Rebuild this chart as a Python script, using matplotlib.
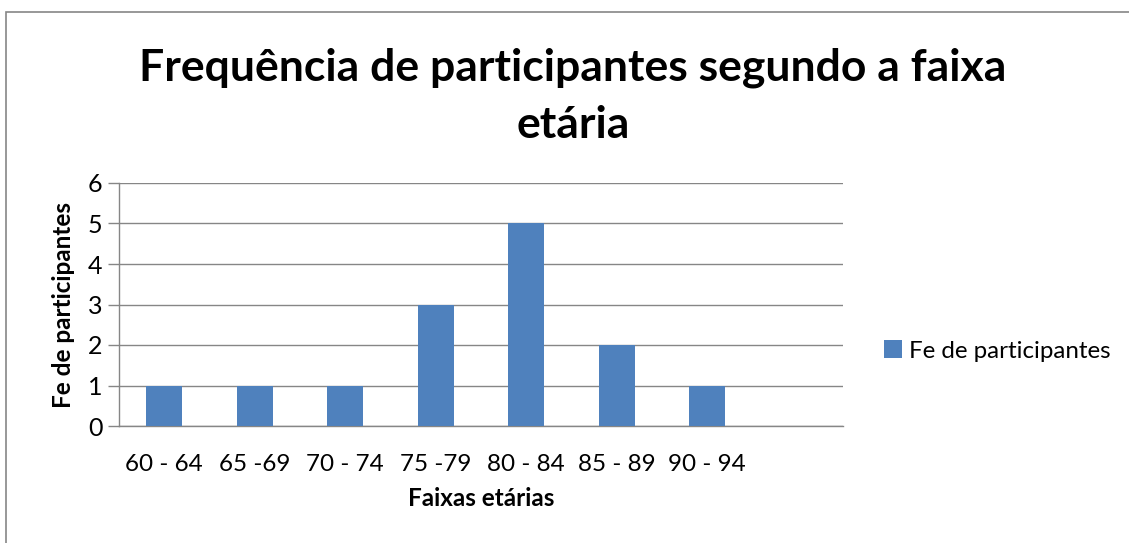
import matplotlib
matplotlib.use("Agg")
import matplotlib.pyplot as plt
from matplotlib.patches import Rectangle, Patch
import numpy as np

categories = ["60 - 64", "65 -69", "70 - 74", "75 -79", "80 - 84", "85 - 89", "90 - 94", ""]
values = [1, 1, 1, 3, 5, 2, 1, np.nan]
series_name = "Fe de participantes"
title = "Frequência de participantes segundo a faixa\netária"
xlabel = "Faixas etárias"
ylabel = "Fe de participantes"
yticks = [0, 1, 2, 3, 4, 5, 6]

plt.rcParams['font.family'] = ['Lato', 'DejaVu Sans']

W, H = 1129, 543
fig = plt.figure(figsize=(W / 100, H / 100), dpi=100)
fig.patch.set_facecolor("white")

# outer chart border
fig.add_artist(Rectangle((6 / W, -0.5), 2.0, 1 - 12 / H + 0.5, transform=fig.transFigure,
                         fill=False, edgecolor="#868686", linewidth=1.2))

ax = fig.add_axes([119 / W, 1 - 426 / H, (843 - 119) / W, (426 - 183) / H])
x = np.arange(len(categories))
color = "#4F81BD"
ax.bar(x, values, width=0.4, color=color, zorder=3, label=series_name)

ax.set_xlim(-0.5, len(categories) - 0.5)
ax.set_ylim(0, 6)
ax.set_yticks(yticks)
ax.set_xticks(x)
ax.set_xticklabels(categories)
ax.tick_params(axis="x", length=0, pad=20, labelsize=17.5)
ax.tick_params(axis="y", length=8, width=1, color="#868686", pad=4, labelsize=18)
ax.yaxis.grid(True, color="#868686", linewidth=1, zorder=0)
for s in ["top", "right"]:
    ax.spines[s].set_visible(False)
ax.spines["left"].set_color("#868686")
ax.spines["bottom"].set_color("#868686")
ax.spines["left"].set_linewidth(1)
ax.spines["bottom"].set_linewidth(1)

ax.set_xlabel(xlabel, fontsize=17.5, fontweight="bold", labelpad=9)
ax.set_ylabel(ylabel, fontsize=17.5, fontweight="bold", labelpad=9)

fig.text(573 / W, 1 - 96 / H, title, ha="center", va="center", fontsize=32,
         fontweight="bold", linespacing=1.5)

handles = [Patch(facecolor=color, edgecolor="none")]
fig.legend(handles, [series_name], loc="center left", bbox_to_anchor=(884 / W, 1 - 351 / H),
           frameon=False, fontsize=17.4, handlelength=0.75, handleheight=0.75, handletextpad=0.3,
           borderaxespad=0, borderpad=0)

fig.savefig("out.png", dpi=100, facecolor="white")
